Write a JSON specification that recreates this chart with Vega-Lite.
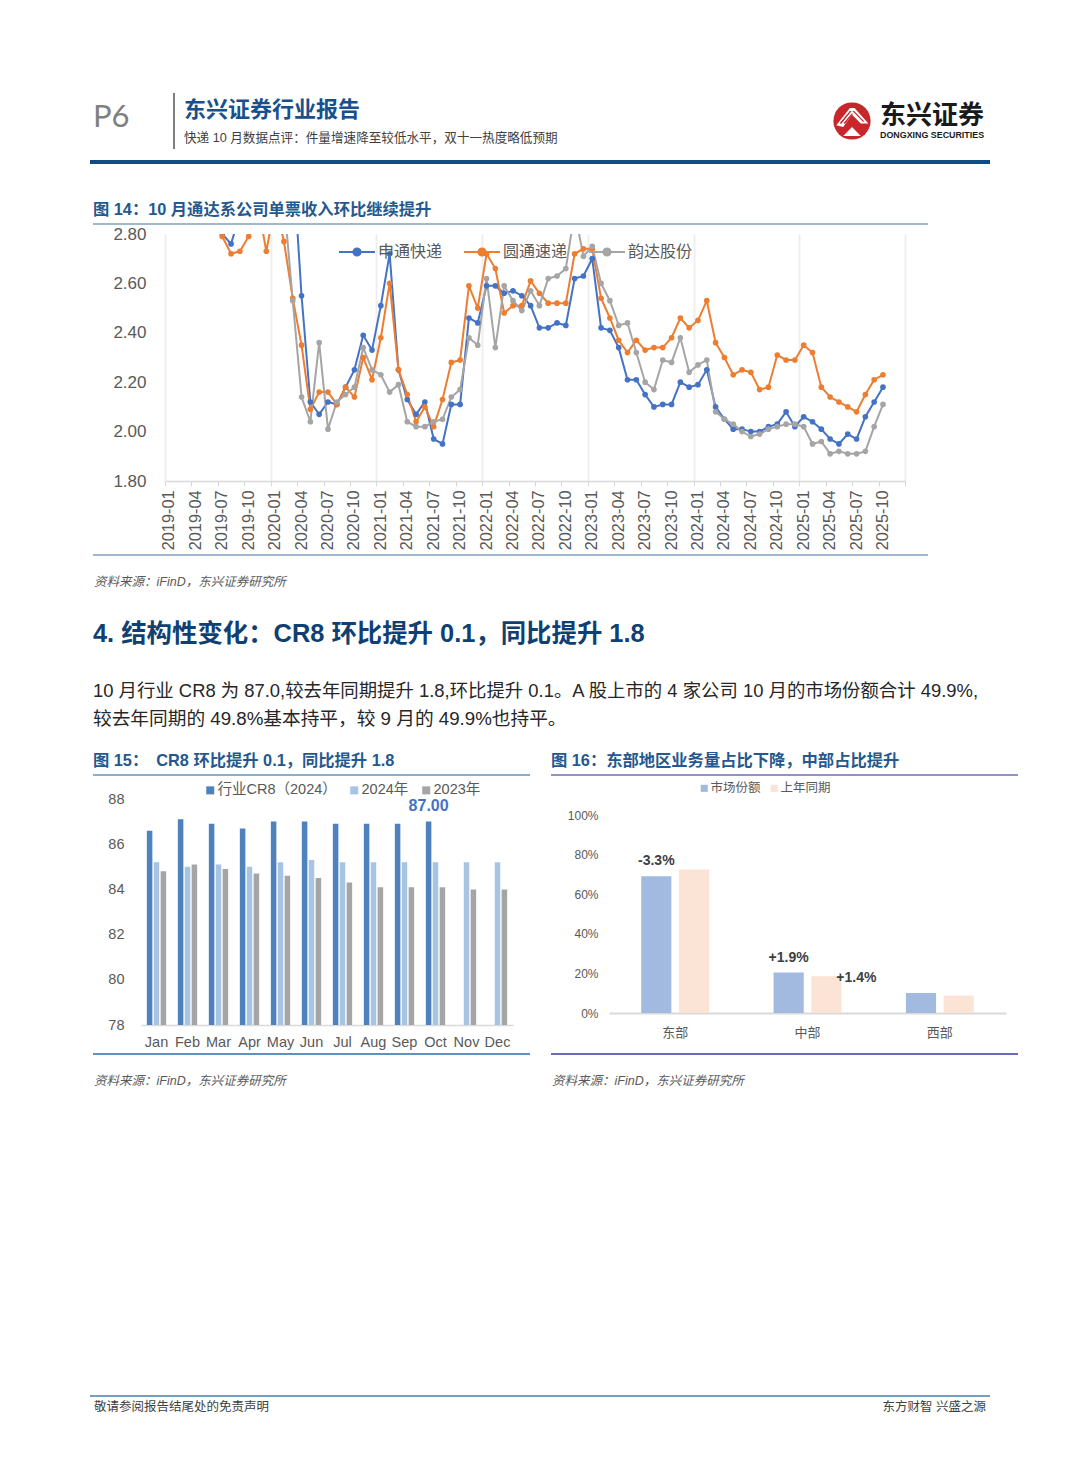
{"$schema":"https://vega.github.io/schema/vega-lite/v6.json","padding":0,"background":"white","bounds":"flush","spacing":0,
"resolve":{"scale":{"color":"independent","xOffset":"independent"},"legend":{"color":"independent"}},
"config":{"view":{"stroke":null},"text":{"font":"Liberation Sans, Noto Sans CJK SC","align":"left","baseline":"middle"}},
"vconcat":[
{"width":1080,"height":234,"layer":[
{"data":{"values":[{"t":"P6"}]},"mark":{"type":"text","font":"Lato","fontSize":31,"fill":"#808080"},"encoding":{"x":{"datum":93,"scale":{"domain":[0,1080],"range":[0,1080]},"axis":null},"y":{"datum":118,"scale":{"domain":[0,234],"range":[0,234]},"axis":null},"text":{"field":"t"}}},
{"data":{"values":[{"t":"header divider"}]},"mark":{"type":"rule","stroke":"#7f7f7f","strokeWidth":2},"encoding":{"x":{"datum":174,"scale":{"domain":[0,1080],"range":[0,1080]},"axis":null},"y":{"datum":93,"scale":{"domain":[0,234],"range":[0,234]},"axis":null},"y2":{"datum":149}}},
{"data":{"values":[{"t":"东兴证券行业报告"}]},"mark":{"type":"text","fontSize":22,"fontWeight":"bold","fill":"#17508c"},"encoding":{"x":{"datum":184,"scale":{"domain":[0,1080],"range":[0,1080]},"axis":null},"y":{"datum":110,"scale":{"domain":[0,234],"range":[0,234]},"axis":null},"text":{"field":"t"}}},
{"data":{"values":[{"t":"快递 10 月数据点评：件量增速降至较低水平，双十一热度略低预期"}]},"mark":{"type":"text","fontSize":12.6,"fill":"#404040"},"encoding":{"x":{"datum":184,"scale":{"domain":[0,1080],"range":[0,1080]},"axis":null},"y":{"datum":138,"scale":{"domain":[0,234],"range":[0,234]},"axis":null},"text":{"field":"t"}}},
{"data":{"values":[{"t":"logo disk"}]},"mark":{"type":"point","shape":"circle","filled":true,"fill":"#c9262c","opacity":1,"size":1385},"encoding":{"x":{"datum":852,"scale":{"domain":[0,1080],"range":[0,1080]},"axis":null},"y":{"datum":121,"scale":{"domain":[0,234],"range":[0,234]},"axis":null}}},
{"data":{"values":[{"t":"logo mountain"}]},"mark":{"type":"point","shape":"M-0.75,0.2L-0.1,-0.62L0.12,-0.62L0.78,0.12L0.42,0.12L0,-0.3L-0.42,0.28ZM-0.42,0.72L0,0.28L0.42,0.72Z","filled":true,"fill":"white","opacity":1,"size":1764},"encoding":{"x":{"datum":852,"scale":{"domain":[0,1080],"range":[0,1080]},"axis":null},"y":{"datum":121,"scale":{"domain":[0,234],"range":[0,234]},"axis":null}}},
{"data":{"values":[{"t":"logo stripes"}]},"mark":{"type":"point","shape":"M-0.58,0.1L-0.1,-0.48L-0.02,-0.48L-0.52,0.14ZM-0.4,0.1L-0.02,-0.34L0.05,-0.34L-0.34,0.14ZM0.02,-0.48L0.1,-0.48L0.6,0.04L0.52,0.04Z","filled":true,"fill":"#c9262c","opacity":1,"size":1764},"encoding":{"x":{"datum":852,"scale":{"domain":[0,1080],"range":[0,1080]},"axis":null},"y":{"datum":121,"scale":{"domain":[0,234],"range":[0,234]},"axis":null}}},
{"data":{"values":[{"t":"东兴证券"}]},"mark":{"type":"text","fontSize":26,"fontWeight":"bold","fill":"#1a1a1a"},"encoding":{"x":{"datum":880,"scale":{"domain":[0,1080],"range":[0,1080]},"axis":null},"y":{"datum":116,"scale":{"domain":[0,234],"range":[0,234]},"axis":null},"text":{"field":"t"}}},
{"data":{"values":[{"t":"DONGXING SECURITIES"}]},"mark":{"type":"text","fontSize":8.9,"fontWeight":"bold","fill":"#1a1a1a"},"encoding":{"x":{"datum":880,"scale":{"domain":[0,1080],"range":[0,1080]},"axis":null},"y":{"datum":135,"scale":{"domain":[0,234],"range":[0,234]},"axis":null},"text":{"field":"t"}}},
{"data":{"values":[{"t":"header rule"}]},"mark":{"type":"rule","stroke":"#0f4c81","strokeWidth":4},"encoding":{"x":{"datum":90,"scale":{"domain":[0,1080],"range":[0,1080]},"axis":null},"x2":{"datum":990},"y":{"datum":162,"scale":{"domain":[0,234],"range":[0,234]},"axis":null}}},
{"data":{"values":[{"t":"图 14：10 月通达系公司单票收入环比继续提升"}]},"mark":{"type":"text","fontSize":16.3,"fontWeight":"bold","fill":"#24588f"},"encoding":{"x":{"datum":93,"scale":{"domain":[0,1080],"range":[0,1080]},"axis":null},"y":{"datum":210,"scale":{"domain":[0,234],"range":[0,234]},"axis":null},"text":{"field":"t"}}},
{"data":{"values":[{"t":"figure rule"}]},"mark":{"type":"rule","stroke":"#7ea0c0","strokeWidth":1.5},"encoding":{"x":{"datum":93,"scale":{"domain":[0,1080],"range":[0,1080]},"axis":null},"x2":{"datum":928},"y":{"datum":224,"scale":{"domain":[0,234],"range":[0,234]},"axis":null}}}
]},
{"width":1080,"height":247,
"data":{"values":[
{"m":"2019-07","c":"申通快递","v":2.8},{"m":"2019-08","c":"申通快递","v":2.76},{"m":"2019-09","c":"申通快递","v":2.88},{"m":"2019-10","c":"申通快递","v":2.95},{"m":"2019-11","c":"申通快递","v":2.98},{"m":"2019-12","c":"申通快递","v":3.0},
{"m":"2020-01","c":"申通快递","v":3.05},{"m":"2020-02","c":"申通快递","v":3.1},{"m":"2020-03","c":"申通快递","v":3.11},{"m":"2020-04","c":"申通快递","v":2.55},{"m":"2020-05","c":"申通快递","v":2.12},{"m":"2020-06","c":"申通快递","v":2.07},{"m":"2020-07","c":"申通快递","v":2.12},{"m":"2020-08","c":"申通快递","v":2.11},{"m":"2020-09","c":"申通快递","v":2.18},{"m":"2020-10","c":"申通快递","v":2.25},{"m":"2020-11","c":"申通快递","v":2.39},{"m":"2020-12","c":"申通快递","v":2.33},
{"m":"2021-01","c":"申通快递","v":2.51},{"m":"2021-02","c":"申通快递","v":2.72},{"m":"2021-03","c":"申通快递","v":2.25},{"m":"2021-04","c":"申通快递","v":2.13},{"m":"2021-05","c":"申通快递","v":2.07},{"m":"2021-06","c":"申通快递","v":2.12},{"m":"2021-07","c":"申通快递","v":1.97},{"m":"2021-08","c":"申通快递","v":1.95},{"m":"2021-09","c":"申通快递","v":2.11},{"m":"2021-10","c":"申通快递","v":2.11},{"m":"2021-11","c":"申通快递","v":2.46},{"m":"2021-12","c":"申通快递","v":2.44},
{"m":"2022-01","c":"申通快递","v":2.59},{"m":"2022-02","c":"申通快递","v":2.59},{"m":"2022-03","c":"申通快递","v":2.56},{"m":"2022-04","c":"申通快递","v":2.57},{"m":"2022-05","c":"申通快递","v":2.55},{"m":"2022-06","c":"申通快递","v":2.51},{"m":"2022-07","c":"申通快递","v":2.42},{"m":"2022-08","c":"申通快递","v":2.42},{"m":"2022-09","c":"申通快递","v":2.44},{"m":"2022-10","c":"申通快递","v":2.43},{"m":"2022-11","c":"申通快递","v":2.62},{"m":"2022-12","c":"申通快递","v":2.63},
{"m":"2023-01","c":"申通快递","v":2.7},{"m":"2023-02","c":"申通快递","v":2.42},{"m":"2023-03","c":"申通快递","v":2.41},{"m":"2023-04","c":"申通快递","v":2.34},{"m":"2023-05","c":"申通快递","v":2.21},{"m":"2023-06","c":"申通快递","v":2.21},{"m":"2023-07","c":"申通快递","v":2.15},{"m":"2023-08","c":"申通快递","v":2.1},{"m":"2023-09","c":"申通快递","v":2.11},{"m":"2023-10","c":"申通快递","v":2.11},{"m":"2023-11","c":"申通快递","v":2.2},{"m":"2023-12","c":"申通快递","v":2.18},
{"m":"2024-01","c":"申通快递","v":2.19},{"m":"2024-02","c":"申通快递","v":2.25},{"m":"2024-03","c":"申通快递","v":2.1},{"m":"2024-04","c":"申通快递","v":2.05},{"m":"2024-05","c":"申通快递","v":2.01},{"m":"2024-06","c":"申通快递","v":2.01},{"m":"2024-07","c":"申通快递","v":2.0},{"m":"2024-08","c":"申通快递","v":2.0},{"m":"2024-09","c":"申通快递","v":2.02},{"m":"2024-10","c":"申通快递","v":2.03},{"m":"2024-11","c":"申通快递","v":2.08},{"m":"2024-12","c":"申通快递","v":2.02},
{"m":"2025-01","c":"申通快递","v":2.06},{"m":"2025-02","c":"申通快递","v":2.04},{"m":"2025-03","c":"申通快递","v":2.01},{"m":"2025-04","c":"申通快递","v":1.97},{"m":"2025-05","c":"申通快递","v":1.95},{"m":"2025-06","c":"申通快递","v":1.99},{"m":"2025-07","c":"申通快递","v":1.97},{"m":"2025-08","c":"申通快递","v":2.06},{"m":"2025-09","c":"申通快递","v":2.12},{"m":"2025-10","c":"申通快递","v":2.18},
{"m":"2019-07","c":"圆通速递","v":2.79},{"m":"2019-08","c":"圆通速递","v":2.72},{"m":"2019-09","c":"圆通速递","v":2.73},{"m":"2019-10","c":"圆通速递","v":2.79},{"m":"2019-11","c":"圆通速递","v":2.93},{"m":"2019-12","c":"圆通速递","v":2.73},
{"m":"2020-01","c":"圆通速递","v":2.92},{"m":"2020-02","c":"圆通速递","v":2.77},{"m":"2020-03","c":"圆通速递","v":2.54},{"m":"2020-04","c":"圆通速递","v":2.35},{"m":"2020-05","c":"圆通速递","v":2.09},{"m":"2020-06","c":"圆通速递","v":2.16},{"m":"2020-07","c":"圆通速递","v":2.16},{"m":"2020-08","c":"圆通速递","v":2.11},{"m":"2020-09","c":"圆通速递","v":2.18},{"m":"2020-10","c":"圆通速递","v":2.14},{"m":"2020-11","c":"圆通速递","v":2.3},{"m":"2020-12","c":"圆通速递","v":2.21},
{"m":"2021-01","c":"圆通速递","v":2.38},{"m":"2021-02","c":"圆通速递","v":2.6},{"m":"2021-03","c":"圆通速递","v":2.25},{"m":"2021-04","c":"圆通速递","v":2.15},{"m":"2021-05","c":"圆通速递","v":2.04},{"m":"2021-06","c":"圆通速递","v":2.1},{"m":"2021-07","c":"圆通速递","v":2.02},{"m":"2021-08","c":"圆通速递","v":2.13},{"m":"2021-09","c":"圆通速递","v":2.28},{"m":"2021-10","c":"圆通速递","v":2.29},{"m":"2021-11","c":"圆通速递","v":2.59},{"m":"2021-12","c":"圆通速递","v":2.5},
{"m":"2022-01","c":"圆通速递","v":2.72},{"m":"2022-02","c":"圆通速递","v":2.66},{"m":"2022-03","c":"圆通速递","v":2.48},{"m":"2022-04","c":"圆通速递","v":2.51},{"m":"2022-05","c":"圆通速递","v":2.51},{"m":"2022-06","c":"圆通速递","v":2.61},{"m":"2022-07","c":"圆通速递","v":2.56},{"m":"2022-08","c":"圆通速递","v":2.52},{"m":"2022-09","c":"圆通速递","v":2.52},{"m":"2022-10","c":"圆通速递","v":2.52},{"m":"2022-11","c":"圆通速递","v":2.72},{"m":"2022-12","c":"圆通速递","v":2.74},
{"m":"2023-01","c":"圆通速递","v":2.74},{"m":"2023-02","c":"圆通速递","v":2.54},{"m":"2023-03","c":"圆通速递","v":2.46},{"m":"2023-04","c":"圆通速递","v":2.37},{"m":"2023-05","c":"圆通速递","v":2.32},{"m":"2023-06","c":"圆通速递","v":2.37},{"m":"2023-07","c":"圆通速递","v":2.33},{"m":"2023-08","c":"圆通速递","v":2.34},{"m":"2023-09","c":"圆通速递","v":2.34},{"m":"2023-10","c":"圆通速递","v":2.38},{"m":"2023-11","c":"圆通速递","v":2.46},{"m":"2023-12","c":"圆通速递","v":2.42},
{"m":"2024-01","c":"圆通速递","v":2.45},{"m":"2024-02","c":"圆通速递","v":2.53},{"m":"2024-03","c":"圆通速递","v":2.36},{"m":"2024-04","c":"圆通速递","v":2.3},{"m":"2024-05","c":"圆通速递","v":2.23},{"m":"2024-06","c":"圆通速递","v":2.25},{"m":"2024-07","c":"圆通速递","v":2.24},{"m":"2024-08","c":"圆通速递","v":2.17},{"m":"2024-09","c":"圆通速递","v":2.18},{"m":"2024-10","c":"圆通速递","v":2.31},{"m":"2024-11","c":"圆通速递","v":2.29},{"m":"2024-12","c":"圆通速递","v":2.29},
{"m":"2025-01","c":"圆通速递","v":2.35},{"m":"2025-02","c":"圆通速递","v":2.32},{"m":"2025-03","c":"圆通速递","v":2.18},{"m":"2025-04","c":"圆通速递","v":2.14},{"m":"2025-05","c":"圆通速递","v":2.12},{"m":"2025-06","c":"圆通速递","v":2.1},{"m":"2025-07","c":"圆通速递","v":2.08},{"m":"2025-08","c":"圆通速递","v":2.15},{"m":"2025-09","c":"圆通速递","v":2.21},{"m":"2025-10","c":"圆通速递","v":2.23},
{"m":"2020-01","c":"韵达股份","v":3.0},{"m":"2020-02","c":"韵达股份","v":2.94},{"m":"2020-03","c":"韵达股份","v":2.53},{"m":"2020-04","c":"韵达股份","v":2.14},{"m":"2020-05","c":"韵达股份","v":2.04},{"m":"2020-06","c":"韵达股份","v":2.36},{"m":"2020-07","c":"韵达股份","v":2.01},{"m":"2020-08","c":"韵达股份","v":2.12},{"m":"2020-09","c":"韵达股份","v":2.15},{"m":"2020-10","c":"韵达股份","v":2.18},{"m":"2020-11","c":"韵达股份","v":2.34},{"m":"2020-12","c":"韵达股份","v":2.25},
{"m":"2021-01","c":"韵达股份","v":2.23},{"m":"2021-02","c":"韵达股份","v":2.16},{"m":"2021-03","c":"韵达股份","v":2.19},{"m":"2021-04","c":"韵达股份","v":2.04},{"m":"2021-05","c":"韵达股份","v":2.02},{"m":"2021-06","c":"韵达股份","v":2.02},{"m":"2021-07","c":"韵达股份","v":2.04},{"m":"2021-08","c":"韵达股份","v":2.05},{"m":"2021-09","c":"韵达股份","v":2.14},{"m":"2021-10","c":"韵达股份","v":2.17},{"m":"2021-11","c":"韵达股份","v":2.38},{"m":"2021-12","c":"韵达股份","v":2.35},
{"m":"2022-01","c":"韵达股份","v":2.62},{"m":"2022-02","c":"韵达股份","v":2.34},{"m":"2022-03","c":"韵达股份","v":2.59},{"m":"2022-04","c":"韵达股份","v":2.53},{"m":"2022-05","c":"韵达股份","v":2.49},{"m":"2022-06","c":"韵达股份","v":2.57},{"m":"2022-07","c":"韵达股份","v":2.51},{"m":"2022-08","c":"韵达股份","v":2.62},{"m":"2022-09","c":"韵达股份","v":2.63},{"m":"2022-10","c":"韵达股份","v":2.66},{"m":"2022-11","c":"韵达股份","v":2.89},{"m":"2022-12","c":"韵达股份","v":2.71},
{"m":"2023-01","c":"韵达股份","v":2.75},{"m":"2023-02","c":"韵达股份","v":2.6},{"m":"2023-03","c":"韵达股份","v":2.53},{"m":"2023-04","c":"韵达股份","v":2.43},{"m":"2023-05","c":"韵达股份","v":2.44},{"m":"2023-06","c":"韵达股份","v":2.32},{"m":"2023-07","c":"韵达股份","v":2.2},{"m":"2023-08","c":"韵达股份","v":2.17},{"m":"2023-09","c":"韵达股份","v":2.29},{"m":"2023-10","c":"韵达股份","v":2.28},{"m":"2023-11","c":"韵达股份","v":2.38},{"m":"2023-12","c":"韵达股份","v":2.24},
{"m":"2024-01","c":"韵达股份","v":2.27},{"m":"2024-02","c":"韵达股份","v":2.29},{"m":"2024-03","c":"韵达股份","v":2.08},{"m":"2024-04","c":"韵达股份","v":2.05},{"m":"2024-05","c":"韵达股份","v":2.03},{"m":"2024-06","c":"韵达股份","v":2.0},{"m":"2024-07","c":"韵达股份","v":1.98},{"m":"2024-08","c":"韵达股份","v":1.99},{"m":"2024-09","c":"韵达股份","v":2.01},{"m":"2024-10","c":"韵达股份","v":2.02},{"m":"2024-11","c":"韵达股份","v":2.03},{"m":"2024-12","c":"韵达股份","v":2.03},
{"m":"2025-01","c":"韵达股份","v":2.02},{"m":"2025-02","c":"韵达股份","v":1.95},{"m":"2025-03","c":"韵达股份","v":1.96},{"m":"2025-04","c":"韵达股份","v":1.91},{"m":"2025-05","c":"韵达股份","v":1.92},{"m":"2025-06","c":"韵达股份","v":1.91},{"m":"2025-07","c":"韵达股份","v":1.91},{"m":"2025-08","c":"韵达股份","v":1.92},{"m":"2025-09","c":"韵达股份","v":2.02},{"m":"2025-10","c":"韵达股份","v":2.11}
]},
"resolve":{"axis":{"x":"independent"}},
"encoding":{
"y":{"field":"v","type":"quantitative","title":null,"scale":{"domain":[1.8,2.8],"nice":false,"zero":false},"axis":{"values":[1.8,2.0,2.2,2.4,2.6,2.8],"format":".2f","offset":-165,"domain":false,"ticks":false,"grid":false,"labelFont":"Liberation Sans","labelFontSize":17,"labelColor":"#595959","labelPadding":19}},
"color":{"field":"c","type":"nominal","sort":null,"scale":{"domain":["申通快递","圆通速递","韵达股份"],"range":["#4472c4","#ed7d31","#a5a5a5"]},"legend":{"title":null,"orient":"none","direction":"horizontal","legendX":338,"legendY":-1,"symbolType":"M-1,0L-0.2,0M0.2,0L1,0M-0.2,0A0.2,0.2 0 1,0 0.2,0A0.2,0.2 0 1,0 -0.2,0Z","symbolSize":1296,"symbolStrokeWidth":2,"labelFont":"Noto Sans CJK SC","labelFontSize":16,"labelColor":"#595959","labelOffset":2,"columnPadding":17}}
},
"layer":[
{"mark":{"type":"line","strokeWidth":2,"clip":true},"encoding":{"x":{"field":"m","type":"nominal","title":null,"scale":{"type":"band","range":[165,905],"paddingInner":0,"paddingOuter":0,"domain":["2019-01","2019-02","2019-03","2019-04","2019-05","2019-06","2019-07","2019-08","2019-09","2019-10","2019-11","2019-12","2020-01","2020-02","2020-03","2020-04","2020-05","2020-06","2020-07","2020-08","2020-09","2020-10","2020-11","2020-12","2021-01","2021-02","2021-03","2021-04","2021-05","2021-06","2021-07","2021-08","2021-09","2021-10","2021-11","2021-12","2022-01","2022-02","2022-03","2022-04","2022-05","2022-06","2022-07","2022-08","2022-09","2022-10","2022-11","2022-12","2023-01","2023-02","2023-03","2023-04","2023-05","2023-06","2023-07","2023-08","2023-09","2023-10","2023-11","2023-12","2024-01","2024-02","2024-03","2024-04","2024-05","2024-06","2024-07","2024-08","2024-09","2024-10","2024-11","2024-12","2025-01","2025-02","2025-03","2025-04","2025-05","2025-06","2025-07","2025-08","2025-09","2025-10","2025-11","2025-12"]},"axis":{"orient":"bottom","values":["2019-01","2019-03","2019-06","2019-09","2019-12","2020-03","2020-06","2020-09","2020-12","2021-03","2021-06","2021-09","2021-12","2022-03","2022-06","2022-09","2022-12","2023-03","2023-06","2023-09","2023-12","2024-03","2024-06","2024-09","2024-12","2025-03","2025-06","2025-09","2025-12"],"tickBand":"extent","grid":true,"gridWidth":2,"gridColor":{"condition":{"test":"indexof(datum.value+'','-12')>0 || datum.extra","value":"#eeeeee"},"value":"transparent"},"labels":false,"tickSize":5,"tickColor":{"condition":{"test":"datum.value=='2019-01'","value":"transparent"},"value":"#d9d9d9"},"domainColor":"#d9d9d9","domainWidth":1.5}}}},
{"mark":{"type":"point","filled":true,"opacity":1,"size":32,"clip":true},"encoding":{"x":{"field":"m","type":"nominal","title":null,"axis":{"orient":"bottom","values":["2019-01","2019-04","2019-07","2019-10","2020-01","2020-04","2020-07","2020-10","2021-01","2021-04","2021-07","2021-10","2022-01","2022-04","2022-07","2022-10","2023-01","2023-04","2023-07","2023-10","2024-01","2024-04","2024-07","2024-10","2025-01","2025-04","2025-07","2025-10"],"grid":false,"ticks":false,"domain":false,"labelAngle":270,"labelAlign":"right","labelBaseline":"middle","labelFont":"Liberation Sans","labelFontSize":16.3,"labelColor":"#595959","labelPadding":9,"labelOverlap":false}}}}
]},
{"width":1080,"height":317,"layer":[
{"data":{"values":[{"t":"figure bottom rule"}]},"mark":{"type":"rule","stroke":"#7ea0c0","strokeWidth":1.5},"encoding":{"x":{"datum":93,"scale":{"domain":[0,1080],"range":[0,1080]},"axis":null},"x2":{"datum":928},"y":{"datum":555,"scale":{"domain":[481,798],"range":[0,317]},"axis":null}}},
{"data":{"values":[{"t":"资料来源：iFinD，东兴证券研究所"}]},"mark":{"type":"text","fontSize":12.5,"fontStyle":"italic","fill":"#595959"},"encoding":{"x":{"datum":94,"scale":{"domain":[0,1080],"range":[0,1080]},"axis":null},"y":{"datum":582,"scale":{"domain":[481,798],"range":[0,317]},"axis":null},"text":{"field":"t"}}},
{"data":{"values":[{"t":"4. 结构性变化：CR8 环比提升 0.1，同比提升 1.8"}]},"mark":{"type":"text","fontSize":25.4,"fontWeight":"bold","fill":"#0f3f73"},"encoding":{"x":{"datum":93,"scale":{"domain":[0,1080],"range":[0,1080]},"axis":null},"y":{"datum":634,"scale":{"domain":[481,798],"range":[0,317]},"axis":null},"text":{"field":"t"}}},
{"data":{"values":[{"t":"10 月行业 CR8 为 87.0,较去年同期提升 1.8,环比提升 0.1。A 股上市的 4 家公司 10 月的市场份额合计 49.9%,"}]},"mark":{"type":"text","fontSize":18.4,"fill":"#262626"},"encoding":{"x":{"datum":93,"scale":{"domain":[0,1080],"range":[0,1080]},"axis":null},"y":{"datum":691,"scale":{"domain":[481,798],"range":[0,317]},"axis":null},"text":{"field":"t"}}},
{"data":{"values":[{"t":"较去年同期的 49.8%基本持平，较 9 月的 49.9%也持平。"}]},"mark":{"type":"text","fontSize":18.7,"fill":"#262626"},"encoding":{"x":{"datum":93,"scale":{"domain":[0,1080],"range":[0,1080]},"axis":null},"y":{"datum":719,"scale":{"domain":[481,798],"range":[0,317]},"axis":null},"text":{"field":"t"}}},
{"data":{"values":[{"t":"图 15：\u2002CR8 环比提升 0.1，同比提升 1.8"}]},"mark":{"type":"text","fontSize":16.3,"fontWeight":"bold","fill":"#24588f"},"encoding":{"x":{"datum":93,"scale":{"domain":[0,1080],"range":[0,1080]},"axis":null},"y":{"datum":761,"scale":{"domain":[481,798],"range":[0,317]},"axis":null},"text":{"field":"t"}}},
{"data":{"values":[{"t":"图 16：东部地区业务量占比下降，中部占比提升"}]},"mark":{"type":"text","fontSize":16.3,"fontWeight":"bold","fill":"#24588f"},"encoding":{"x":{"datum":551,"scale":{"domain":[0,1080],"range":[0,1080]},"axis":null},"y":{"datum":761,"scale":{"domain":[481,798],"range":[0,317]},"axis":null},"text":{"field":"t"}}},
{"data":{"values":[{"t":"figure 15 rule"}]},"mark":{"type":"rule","stroke":"#5f93bd","strokeWidth":1.5},"encoding":{"x":{"datum":93,"scale":{"domain":[0,1080],"range":[0,1080]},"axis":null},"x2":{"datum":530},"y":{"datum":775,"scale":{"domain":[481,798],"range":[0,317]},"axis":null}}},
{"data":{"values":[{"t":"figure 16 rule"}]},"mark":{"type":"rule","stroke":"#6a6db5","strokeWidth":1.5},"encoding":{"x":{"datum":551,"scale":{"domain":[0,1080],"range":[0,1080]},"axis":null},"x2":{"datum":1018},"y":{"datum":775,"scale":{"domain":[481,798],"range":[0,317]},"axis":null}}}
]},
{"hconcat":[
{"width":545,"height":227,
"data":{"values":[
{"m":"Jan","s":"行业CR8（2024）","v":86.6},{"m":"Jan","s":"2024年","v":85.2},{"m":"Jan","s":"2023年","v":84.8},
{"m":"Feb","s":"行业CR8（2024）","v":87.1},{"m":"Feb","s":"2024年","v":85.0},{"m":"Feb","s":"2023年","v":85.1},
{"m":"Mar","s":"行业CR8（2024）","v":86.9},{"m":"Mar","s":"2024年","v":85.1},{"m":"Mar","s":"2023年","v":84.9},
{"m":"Apr","s":"行业CR8（2024）","v":86.7},{"m":"Apr","s":"2024年","v":85.0},{"m":"Apr","s":"2023年","v":84.7},
{"m":"May","s":"行业CR8（2024）","v":87.0},{"m":"May","s":"2024年","v":85.2},{"m":"May","s":"2023年","v":84.6},
{"m":"Jun","s":"行业CR8（2024）","v":87.0},{"m":"Jun","s":"2024年","v":85.3},{"m":"Jun","s":"2023年","v":84.5},
{"m":"Jul","s":"行业CR8（2024）","v":86.9},{"m":"Jul","s":"2024年","v":85.2},{"m":"Jul","s":"2023年","v":84.3},
{"m":"Aug","s":"行业CR8（2024）","v":86.9},{"m":"Aug","s":"2024年","v":85.2},{"m":"Aug","s":"2023年","v":84.1},
{"m":"Sep","s":"行业CR8（2024）","v":86.9},{"m":"Sep","s":"2024年","v":85.2},{"m":"Sep","s":"2023年","v":84.1},
{"m":"Oct","s":"行业CR8（2024）","v":87.0},{"m":"Oct","s":"2024年","v":85.2},{"m":"Oct","s":"2023年","v":84.1},
{"m":"Nov","s":"2024年","v":85.2},{"m":"Nov","s":"2023年","v":84.0},
{"m":"Dec","s":"2024年","v":85.2},{"m":"Dec","s":"2023年","v":84.0}
]},
"encoding":{
"x":{"field":"m","type":"nominal","title":null,"scale":{"type":"band","domain":["Jan","Feb","Mar","Apr","May","Jun","Jul","Aug","Sep","Oct","Nov","Dec"],"range":[141,513],"paddingInner":0.377,"paddingOuter":0.1885},"axis":{"labelAngle":0,"labelFont":"Liberation Sans","labelFontSize":14.5,"labelColor":"#595959","labelPadding":10,"ticks":false,"domainColor":"#d9d9d9","domainWidth":1.5}},
"xOffset":{"field":"s","type":"nominal","scale":{"domain":["行业CR8（2024）","2024年","2023年"],"paddingInner":0.2,"paddingOuter":0}},
"y":{"field":"v","type":"quantitative","title":null,"scale":{"domain":[78,88],"range":[227,1],"nice":false,"zero":false},"axis":{"values":[78,80,82,84,86,88],"offset":-141,"domain":false,"ticks":false,"grid":false,"labelFont":"Liberation Sans","labelFontSize":14.5,"labelColor":"#595959","labelPadding":17}}
},
"layer":[
{"mark":{"type":"bar"},"encoding":{"y2":{"datum":78},"color":{"field":"s","type":"nominal","scale":{"domain":["行业CR8（2024）","2024年","2023年"],"range":["#4f81bd","#a7c4e2","#a5a5a5"]},"legend":{"title":null,"orient":"none","direction":"horizontal","legendX":203,"legendY":-15,"symbolType":"square","symbolSize":64,"labelFont":"Liberation Sans, Noto Sans CJK SC","labelFontSize":14.5,"labelColor":"#595959","labelOffset":0,"columnPadding":10}}}},
{"transform":[{"filter":"datum.m=='Oct' && datum.s=='行业CR8（2024）'"}],"mark":{"type":"text","align":"center","baseline":"bottom","dy":-8,"fontSize":16,"fontWeight":"bold","fill":"#4472c4"},"encoding":{"text":{"field":"v","type":"quantitative","format":".2f"}}}
]},
{"width":535,"height":215,
"data":{"values":[
{"r":"东部","s":"市场份额","v":0.691,"l":"-3.3%"},{"r":"东部","s":"上年同期","v":0.725},
{"r":"中部","s":"市场份额","v":0.204,"l":"+1.9%"},{"r":"中部","s":"上年同期","v":0.185,"l":"+1.4%"},
{"r":"西部","s":"市场份额","v":0.101},{"r":"西部","s":"上年同期","v":0.088}
]},
"encoding":{
"x":{"field":"r","type":"nominal","title":null,"scale":{"type":"band","domain":["东部","中部","西部"],"range":[64,461],"paddingInner":0.487,"paddingOuter":0.2435},"axis":{"labelAngle":0,"labelFont":"Noto Sans CJK SC","labelFontSize":13,"labelColor":"#595959","labelPadding":13,"ticks":false,"domainColor":"#d9d9d9","domainWidth":2}},
"xOffset":{"field":"s","type":"nominal","scale":{"domain":["市场份额","上年同期"],"paddingInner":0.2,"paddingOuter":0}},
"y":{"field":"v","type":"quantitative","title":null,"scale":{"domain":[0,1],"range":[215,17],"nice":false},"axis":{"values":[0,0.2,0.4,0.6,0.8,1],"format":".0%","offset":-64,"domain":false,"ticks":false,"grid":false,"labelFont":"Liberation Sans","labelFontSize":12,"labelColor":"#595959","labelPadding":11}}
},
"layer":[
{"mark":{"type":"bar"},"encoding":{"color":{"field":"s","type":"nominal","scale":{"domain":["市场份额","上年同期"],"range":["#a3bae0","#fbe3d6"]},"legend":{"title":null,"orient":"none","direction":"horizontal","legendX":153,"legendY":-16,"symbolType":"square","symbolSize":50,"labelFont":"Noto Sans CJK SC","labelFontSize":12.5,"labelColor":"#595959","labelOffset":0,"columnPadding":7}}}},
{"transform":[{"filter":"datum.l && datum.s=='市场份额'"}],"mark":{"type":"text","align":"center","baseline":"bottom","dy":-8,"fontSize":14,"fontWeight":"bold","fill":"#404040"},"encoding":{"text":{"field":"l"}}},
{"transform":[{"filter":"datum.l && datum.s=='上年同期'"}],"mark":{"type":"text","align":"center","baseline":"middle","dx":30,"dy":2,"fontSize":14,"fontWeight":"bold","fill":"#404040"},"encoding":{"text":{"field":"l"}}}
]}
],"spacing":0,"bounds":"flush","resolve":{"scale":{"color":"independent","xOffset":"independent"},"legend":{"color":"independent"}}},
{"width":1080,"height":668,"layer":[
{"data":{"values":[{"t":"figure 15 bottom rule"}]},"mark":{"type":"rule","stroke":"#5f93bd","strokeWidth":2},"encoding":{"x":{"datum":93,"scale":{"domain":[0,1080],"range":[0,1080]},"axis":null},"x2":{"datum":530},"y":{"datum":1054,"scale":{"domain":[798,1466],"range":[0,668]},"axis":null}}},
{"data":{"values":[{"t":"figure 16 bottom rule"}]},"mark":{"type":"rule","stroke":"#6a6db5","strokeWidth":2},"encoding":{"x":{"datum":551,"scale":{"domain":[0,1080],"range":[0,1080]},"axis":null},"x2":{"datum":1018},"y":{"datum":1054,"scale":{"domain":[798,1466],"range":[0,668]},"axis":null}}},
{"data":{"values":[{"t":"资料来源：iFinD，东兴证券研究所"}]},"mark":{"type":"text","fontSize":12.5,"fontStyle":"italic","fill":"#595959"},"encoding":{"x":{"datum":94,"scale":{"domain":[0,1080],"range":[0,1080]},"axis":null},"y":{"datum":1081,"scale":{"domain":[798,1466],"range":[0,668]},"axis":null},"text":{"field":"t"}}},
{"data":{"values":[{"t":"资料来源：iFinD，东兴证券研究所"}]},"mark":{"type":"text","fontSize":12.5,"fontStyle":"italic","fill":"#595959"},"encoding":{"x":{"datum":552,"scale":{"domain":[0,1080],"range":[0,1080]},"axis":null},"y":{"datum":1081,"scale":{"domain":[798,1466],"range":[0,668]},"axis":null},"text":{"field":"t"}}},
{"data":{"values":[{"t":"footer rule"}]},"mark":{"type":"rule","stroke":"#4a7fa8","strokeWidth":1.5},"encoding":{"x":{"datum":90,"scale":{"domain":[0,1080],"range":[0,1080]},"axis":null},"x2":{"datum":990},"y":{"datum":1396,"scale":{"domain":[798,1466],"range":[0,668]},"axis":null}}},
{"data":{"values":[{"t":"敬请参阅报告结尾处的免责声明"}]},"mark":{"type":"text","fontSize":12.5,"fill":"#404040"},"encoding":{"x":{"datum":94,"scale":{"domain":[0,1080],"range":[0,1080]},"axis":null},"y":{"datum":1407,"scale":{"domain":[798,1466],"range":[0,668]},"axis":null},"text":{"field":"t"}}},
{"data":{"values":[{"t":"东方财智 兴盛之源"}]},"mark":{"type":"text","fontSize":12.5,"fill":"#404040","align":"right"},"encoding":{"x":{"datum":986,"scale":{"domain":[0,1080],"range":[0,1080]},"axis":null},"y":{"datum":1407,"scale":{"domain":[798,1466],"range":[0,668]},"axis":null},"text":{"field":"t"}}}
]}
]}
